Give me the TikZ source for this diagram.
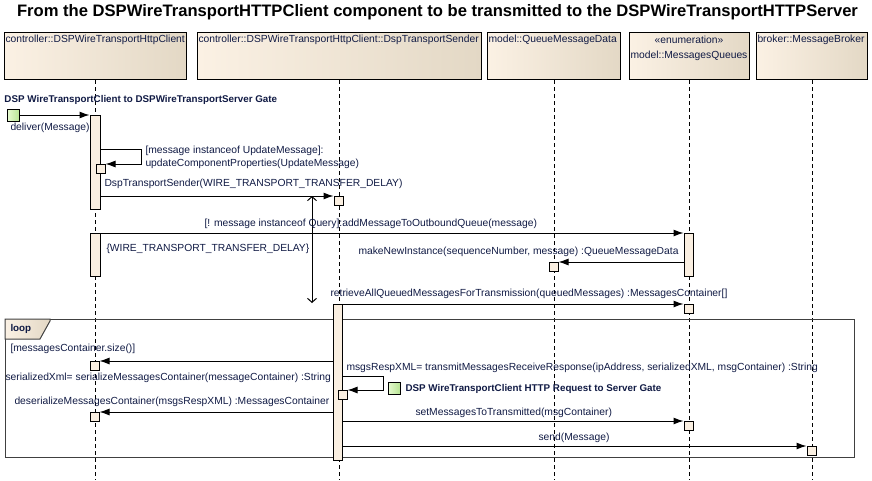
\documentclass[tikz,border=0pt]{standalone}
\usepackage{fontspec}
\setmainfont{Liberation Sans}
\usepackage{xcolor}
\usetikzlibrary{arrows.meta}
\definecolor{hdrlight}{HTML}{FBF1E4}
\definecolor{hdrdark}{HTML}{E3D8C5}
\definecolor{actfill}{HTML}{FAEFE1}
\definecolor{gatelight}{HTML}{E6FAD0}
\definecolor{gatedark}{HTML}{B8E594}
\definecolor{msgtext}{HTML}{101A44}
\newcommand{\msgarrow}{-{Latex[length=10pt,width=7pt]}}
\newcommand{\msgfont}{\fontsize{10.3}{12}\selectfont}

\begin{document}
\begin{tikzpicture}[x=1pt,y=-1pt,line width=1pt,
		hdr/.style={draw,left color=hdrlight,right color=hdrdark,minimum height=47,inner sep=0,anchor=north west},
		txt/.style={font=\msgfont,text=msgtext,inner sep=0,anchor=west},
		gatetxt/.style={font=\bfseries\fontsize{9.8}{11}\selectfont,text=msgtext,inner sep=0,anchor=west},
		lifeline/.style={dash pattern=on 4pt off 3pt},
		act/.style={draw,fill=actfill,minimum width=10,inner sep=0,anchor=north},
		sbox/.style={draw,fill=actfill,minimum size=9,inner sep=0,anchor=north},
		gate/.style={draw,left color=gatelight,right color=gatedark,minimum size=12,inner sep=0},
		durline/.style={{Straight Barb[length=4pt,width=9pt]}-{Straight Barb[length=4pt,width=9pt]}},
		frame/.style={draw=black!75}]
	\useasboundingbox (0,0) rectangle (872,480);
	\coordinate (bottom) at (0,480);
	\node[font=\bfseries\fontsize{16.6}{19}\selectfont] (title) at (437.5,12) {From the DSPWireTransportHTTPClient component to be transmitted to the DSPWireTransportHTTPServer};
	% lifeline heads
	\node[hdr,minimum width=182] (hclient) at (4,32) {};
	\node[hdr,minimum width=284] (hsender) at (197,32) {};
	\node[hdr,minimum width=133] (hqdata) at (487,32) {};
	\node[hdr,minimum width=120] (hqueues) at (629,32) {};
	\node[hdr,minimum width=111] (hbroker) at (756,32) {};
	\node[txt] (tclient) at (5,40) {controller::DSPWireTransportHttpClient};
	\node[txt] (tsender) at (198,40) {controller::DSPWireTransportHttpClient::DspTransportSender};
	\node[txt] (tqdata) at (488,40) {model::QueueMessageData};
	\node[txt,anchor=center] (tenum) at (689,40) {«enumeration»};
	\node[txt,anchor=center] (tqueues) at (689,56) {model::MessagesQueues};
	\node[txt] (tbroker) at (757,40) {broker::MessageBroker};
	\foreach \h in {hclient,hsender,hqdata,hqueues,hbroker}
		\draw[lifeline] (\h.south) -- (\h.south |- bottom);
	% loop fragment
	\node[frame,minimum width=849,minimum height=138,inner sep=0,anchor=north west] (loopframe) at (5,319) {};
	\draw[frame,left color=hdrlight,right color=hdrdark] (loopframe.north west) -- (50,319) -- (50,321) -- (40,339) -- (5,339) -- cycle;
	\node[gatetxt] (tloop) at (10,329) {loop};
	\node[txt] (tguard) at (10,349) {[messagesContainer.size()]};
	% activations
	\node[act,minimum height=94] (act1) at (95,115) {};
	\node[act,minimum height=43] (act1b) at (95,233) {};
	\node[act,minimum width=9,minimum height=43] (act4) at (688.5,233) {};
	\node[act,minimum width=9,minimum height=156] (act2) at (337.5,304) {};
	\node[sbox] (sbupd) at (100.5,164) {};
	\node[sbox] (sbsend) at (338.5,196) {};
	\node[sbox] (sbnew) at (553.5,262) {};
	\node[sbox] (sbret) at (688.5,304) {};
	\node[sbox] (sbser) at (94.5,361) {};
	\node[sbox] (sbtx) at (342.5,390) {};
	\node[sbox] (sbdes) at (94.5,412) {};
	\node[sbox] (sbset) at (688.5,421) {};
	\node[sbox] (sbsnd) at (811.5,446) {};
	% gates
	\node[gate] (gclient) at (13.5,115) {};
	\node[gatetxt] (tgclient) at (4,100) {DSP WireTransportClient to DSPWireTransportServer Gate};
	\node[gate] (grequest) at (394,388) {};
	\node[gatetxt] (tgrequest) at (405,389) {DSP WireTransportClient HTTP Request to Server Gate};
	% messages
	\draw[\msgarrow] (gclient.east) -- (act1.north west);
	\node[txt] (tdeliver) at (10,128) {deliver(Message)};
	\coordinate (selfupd) at (141,149);
	\draw[\msgarrow] (act1.east |- selfupd) -- (selfupd) |- (sbupd.north east);
	\node[txt,align=left,font=\fontsize{10.3}{13}\selectfont] (tupd) at (145,157.5) {[message instanceof UpdateMessage]:\\updateComponentProperties(UpdateMessage)};
	\draw[\msgarrow] (act1.east |- sbsend.north) -- (sbsend.north west);
	\node[txt] (tsend) at (104,184) {DspTransportSender(WIRE\_TRANSPORT\_TRANSFER\_DELAY)};
	\coordinate (durtop) at (312,196);
	\coordinate (durbot) at (312,303);
	\draw[durline] (durtop) -- (durbot);
	\node[txt] (tdelay) at (106,249) {\{WIRE\_TRANSPORT\_TRANSFER\_DELAY\}};
	\draw[\msgarrow] (act1b.north east) -- (act4.north west);
	\node[txt] (tadd) at (204,224) {[! message instanceof Query]:addMessageToOutboundQueue(message)};
	\draw[\msgarrow] (act4.west |- sbnew.north) -- (sbnew.north east);
	\node[txt] (tnew) at (358,252) {makeNewInstance(sequenceNumber, message) :QueueMessageData};
	\draw[\msgarrow] (act2.north east) -- (sbret.north west);
	\node[txt] (tret) at (330,294) {retrieveAllQueuedMessagesForTransmission(queuedMessages) :MessagesContainer[]};
	\draw[\msgarrow] (act2.west |- sbser.north) -- (sbser.north east);
	\node[txt] (tser) at (5,378) {serializedXml= serializeMessagesContainer(messageContainer) :String};
	\coordinate (selftx) at (383,376);
	\draw[\msgarrow] (act2.east |- selftx) -- (selftx) |- (sbtx.north east);
	\node[txt] (ttx) at (346,368) {msgsRespXML= transmitMessagesReceiveResponse(ipAddress, serializedXML, msgContainer) :String};
	\draw[\msgarrow] (act2.west |- sbdes.north) -- (sbdes.north east);
	\node[txt] (tdes) at (14,402) {deserializeMessagesContainer(msgsRespXML) :MessagesContainer};
	\draw[\msgarrow] (act2.east |- sbset.north) -- (sbset.north west);
	\node[txt] (tset) at (415,413) {setMessagesToTransmitted(msgContainer)};
	\draw[\msgarrow] (act2.east |- sbsnd.north) -- (sbsnd.north west);
	\node[txt,anchor=center] (tsnd) at (574,438) {send(Message)};
\end{tikzpicture}
\end{document}
